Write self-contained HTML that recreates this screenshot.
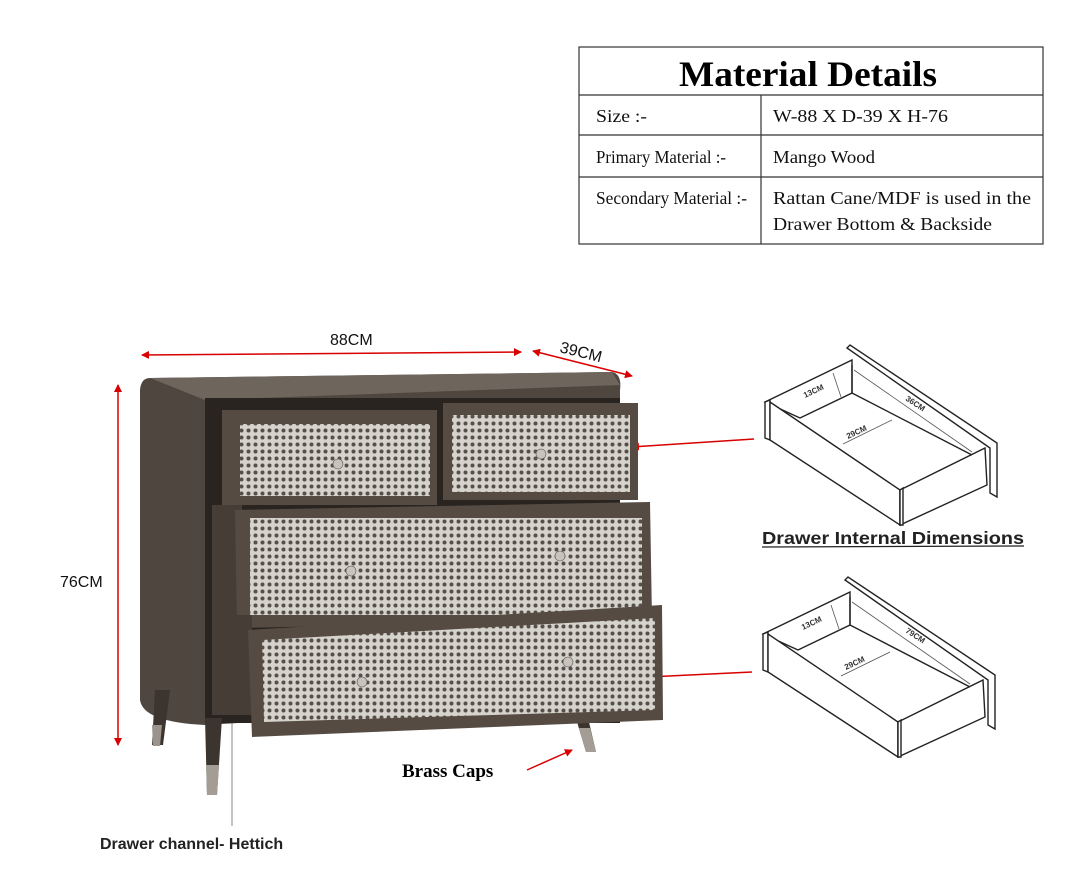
<!DOCTYPE html>
<html><head><meta charset="utf-8"><style>
body{margin:0;background:#fff;}
svg{display:block}
.s{font-family:"Liberation Serif",serif;}
.a{font-family:"Liberation Sans",sans-serif;}
</style></head><body>
<svg width="1080" height="876" viewBox="0 0 1080 876" xmlns="http://www.w3.org/2000/svg">
<defs>
<pattern id="cane" width="7" height="7" patternUnits="userSpaceOnUse">
<rect width="7" height="7" fill="#d6d2cc"/>
<circle cx="3.5" cy="3.5" r="2" fill="#555049"/>
</pattern>
<marker id="ar" markerWidth="8" markerHeight="8" refX="7" refY="4" orient="auto" markerUnits="userSpaceOnUse"><path d="M0,0 L8,4 L0,8 z" fill="#d90000"/></marker>
<marker id="al" markerWidth="8" markerHeight="8" refX="1" refY="4" orient="auto" markerUnits="userSpaceOnUse"><path d="M8,0 L0,4 L8,8 z" fill="#d90000"/></marker>
<g id="drw" fill="#fff" stroke="#222" stroke-width="1.4">
<polygon points="97,8 100,5 247,103 247,157 240,153 240,108"/>
<polygon points="15,62 102,20 102,53 50,78"/>
<polygon points="15,62 20,60 20,100 15,98"/>
<polygon points="20,62 150,150 150,185 20,100"/>
<polygon points="150,150 235,108 237,145 150,185"/>
<polygon points="150,150 153,148 153,185 150,185"/>
<line x1="102" y1="53" x2="222" y2="115" />
<line x1="102" y1="25" x2="102" y2="53" />
<g stroke="#555" stroke-width="0.8">
<line x1="83" y1="33" x2="91" y2="57"/>
<line x1="93" y1="104" x2="142" y2="80"/>
<line x1="104" y1="30" x2="222" y2="112"/>
</g>
</g>
</defs>

<!-- table -->
<g stroke="#333" stroke-width="1.2" fill="none">
<rect x="579" y="47" width="464" height="197"/>
<line x1="579" y1="95" x2="1043" y2="95"/>
<line x1="579" y1="135" x2="1043" y2="135"/>
<line x1="579" y1="177" x2="1043" y2="177"/>
<line x1="761" y1="95" x2="761" y2="244"/>
</g>
<text class="s" x="808" y="86" font-size="36" font-weight="bold" text-anchor="middle" textLength="258" lengthAdjust="spacingAndGlyphs">Material Details</text>
<g class="s" font-size="18" fill="#111">
<text x="596" y="122" textLength="51" lengthAdjust="spacingAndGlyphs">Size :-</text>
<text x="596" y="163" textLength="130" lengthAdjust="spacingAndGlyphs">Primary Material :-</text>
<text x="596" y="204" textLength="151" lengthAdjust="spacingAndGlyphs">Secondary Material :-</text>
<text x="773" y="122" textLength="175" lengthAdjust="spacingAndGlyphs">W-88 X D-39 X H-76</text>
<text x="773" y="163" textLength="102" lengthAdjust="spacingAndGlyphs">Mango Wood</text>
<text x="773" y="204" textLength="258" lengthAdjust="spacingAndGlyphs">Rattan Cane/MDF is used in the</text>
<text x="773" y="230" textLength="219" lengthAdjust="spacingAndGlyphs">Drawer Bottom &amp; Backside</text>
</g>

<!-- dimension arrows -->
<g stroke="#d90000" stroke-width="1.5">
<line x1="142" y1="355" x2="521" y2="352" marker-start="url(#al)" marker-end="url(#ar)"/>
<line x1="533" y1="351" x2="632" y2="376" marker-start="url(#al)" marker-end="url(#ar)"/>
<line x1="118" y1="385" x2="118" y2="745" marker-start="url(#al)" marker-end="url(#ar)"/>
<line x1="754" y1="439" x2="632" y2="447" marker-end="url(#ar)"/>
<line x1="752" y1="672" x2="628" y2="678" marker-end="url(#ar)"/>
<line x1="527" y1="770" x2="572" y2="750" marker-end="url(#ar)"/>
</g>
<line x1="232" y1="693" x2="232" y2="826" stroke="#888" stroke-width="1"/>
<g class="a" font-size="16" fill="#111">
<text x="330" y="345">88CM</text>
<text x="559" y="352" transform="rotate(14 559 352)">39CM</text>
<text x="60" y="587">76CM</text>
</g>

<!-- chest -->
<g>
<path d="M150,378 L612,372 Q622,374 620,390 L620,700 L205,725 Q143,722 140,700 L140,390 Q141,378 150,378 z" fill="#4f4640"/>
<path d="M150,378 L612,372 L620,385 L205,400 z" fill="#6e655c"/>
<rect x="205" y="398" width="415" height="325" fill="#2a2420"/>
<!-- legs -->
<polygon points="155,690 170,690 163,745 152,745" fill="#3c342e"/>
<polygon points="152,725 162,725 160,746 153,746" fill="#9a948c"/>
<polygon points="205,718 222,718 217,795 207,795" fill="#3c342e"/>
<polygon points="206,765 219,765 217,795 207,795" fill="#a39d95"/>
<polygon points="572,705 585,705 596,752 586,752" fill="#3c342e"/>
<polygon points="579,728 590,728 596,752 586,752" fill="#a39d95"/>
<!-- top drawers -->
<rect x="222" y="410" width="215" height="95" fill="#564b42"/>
<rect x="240" y="424" width="190" height="72" fill="url(#cane)"/>
<rect x="443" y="403" width="195" height="97" fill="#564b42"/>
<rect x="452" y="415" width="178" height="77" fill="url(#cane)"/>
<!-- middle -->
<rect x="212" y="505" width="30" height="110" fill="#463d37"/>
<polygon points="235,510 650,502 652,620 237,628" fill="#564b42"/>
<rect x="250" y="518" width="392" height="97" fill="url(#cane)"/>
<!-- bottom -->
<rect x="212" y="615" width="40" height="100" fill="#463d37"/>
<polygon points="248,630 662,605 663,720 252,737" fill="#564b42"/>
<polygon points="262,640 655,618 655,710 264,722" fill="url(#cane)"/>
<!-- knobs -->
<g fill="#c9c3bb" stroke="#555" stroke-width="0.6">
<circle cx="338" cy="464" r="5"/><circle cx="541" cy="454" r="5"/>
<circle cx="351" cy="571" r="5"/><circle cx="560" cy="556" r="5"/>
<circle cx="362" cy="682" r="5"/><circle cx="568" cy="662" r="5"/>
</g>
</g>
<text class="s" x="402" y="777" font-size="19" font-weight="bold">Brass Caps</text>
<text class="a" x="100" y="849" font-size="16" font-weight="bold" fill="#222">Drawer channel- Hettich</text>

<!-- drawer diagrams -->
<use href="#drw" transform="translate(750,340)"/>
<use href="#drw" transform="translate(748,572)"/>
<g class="a" font-size="8" font-weight="bold" fill="#333">
<text x="805" y="398" transform="rotate(-25 805 398)">13CM</text>
<text x="848" y="439" transform="rotate(-25 848 439)">29CM</text>
<text x="905" y="400" transform="rotate(33 905 400)">36CM</text>
<text x="803" y="630" transform="rotate(-25 803 630)">13CM</text>
<text x="846" y="670" transform="rotate(-25 846 670)">29CM</text>
<text x="905" y="632" transform="rotate(33 905 632)">79CM</text>
</g>
<text class="a" x="762" y="544" font-size="17.5" font-weight="bold" fill="#222" textLength="262" lengthAdjust="spacingAndGlyphs">Drawer Internal Dimensions</text>
<line x1="762" y1="547" x2="1024" y2="546" stroke="#222" stroke-width="1.2"/>
</svg>
</body></html>
